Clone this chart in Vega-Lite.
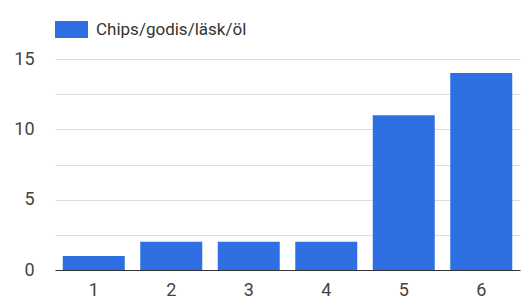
{
  "$schema": "https://vega.github.io/schema/vega-lite/v6.json",
  "width": 465,
  "height": 211,
  "autosize": {"type": "none"},
  "padding": {"left": 55, "top": 59, "right": 1, "bottom": 34},
  "background": "white",
  "config": {"view": {"stroke": null}, "font": "Roboto"},
  "data": {"values": [
    {"x": "1", "value": 1, "series": "Chips/godis/läsk/öl"},
    {"x": "2", "value": 2, "series": "Chips/godis/läsk/öl"},
    {"x": "3", "value": 2, "series": "Chips/godis/läsk/öl"},
    {"x": "4", "value": 2, "series": "Chips/godis/läsk/öl"},
    {"x": "5", "value": 11, "series": "Chips/godis/läsk/öl"},
    {"x": "6", "value": 14, "series": "Chips/godis/läsk/öl"}
  ]},
  "mark": {"type": "bar", "stroke": null},
  "encoding": {
    "x": {
      "field": "x", "type": "ordinal",
      "scale": {"paddingInner": 0.2, "paddingOuter": 0.1},
      "axis": {
        "title": null, "labelAngle": 0, "ticks": false, "domain": true,
        "domainColor": "#333333", "domainWidth": 1.2, "labelFontSize": 18,
        "labelColor": "#444444", "labelPadding": 11, "grid": false
      }
    },
    "y": {
      "field": "value", "type": "quantitative",
      "scale": {"domain": [0, 15], "nice": false},
      "axis": {
        "title": null, "values": [0, 2.5, 5, 7.5, 10, 12.5, 15],
        "labelExpr": "datum.value % 5 == 0 ? format(datum.value, 'd') : ''",
        "ticks": false, "domain": false, "grid": true, "gridColor": "#dddddd",
        "gridWidth": 1.2, "labelFontSize": 18, "labelColor": "#444444",
        "labelPadding": 21
      }
    },
    "color": {
      "field": "series", "type": "nominal",
      "scale": {"range": ["#2f6fe4"]},
      "legend": {
        "title": null, "orient": "none", "legendX": 0, "legendY": -46,
        "symbolType": "M-1,-0.515H1V0.515H-1Z", "symbolSize": 1089,
        "symbolStrokeWidth": 0, "labelFontSize": 17, "labelColor": "#333333",
        "labelOffset": 8, "padding": 0
      }
    }
  }
}
